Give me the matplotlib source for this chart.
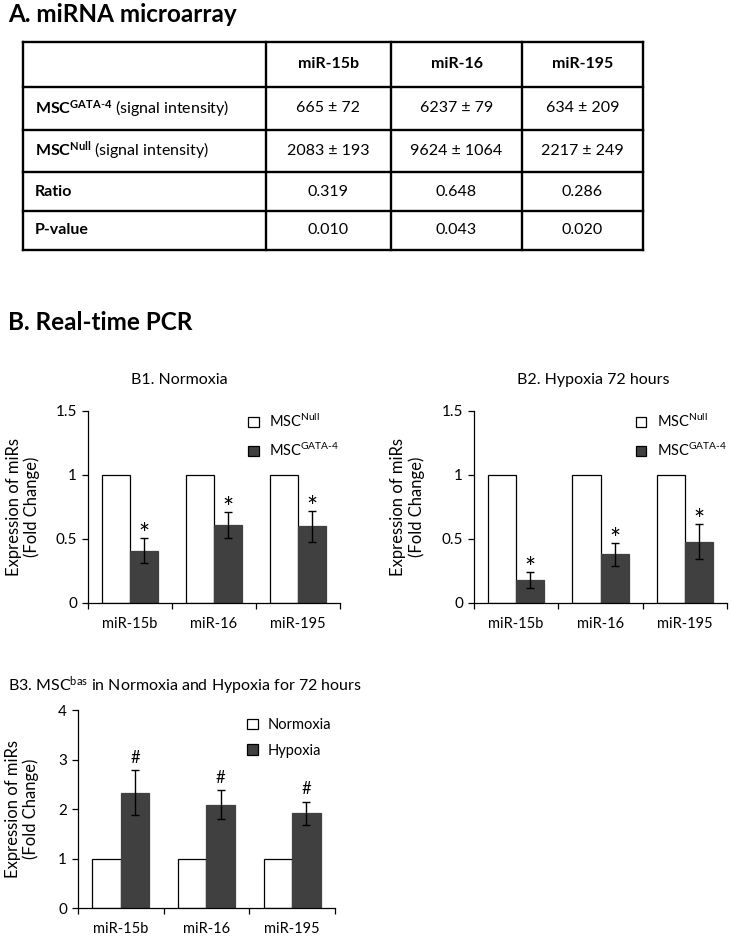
import matplotlib
matplotlib.use("Agg")
import matplotlib.pyplot as plt
from matplotlib.patches import Patch
import numpy as np

plt.rcParams['font.family'] = ['Lato', 'DejaVu Sans']
plt.rcParams['mathtext.fontset'] = 'custom'
plt.rcParams['mathtext.rm'] = 'Lato'
plt.rcParams['mathtext.bf'] = 'Lato:bold'
plt.rcParams['mathtext.it'] = 'Lato:italic'

# ---------------- data ----------------
mirs = ["miR-15b", "miR-16", "miR-195"]
table_rows = [r"$\mathbf{MSC^{GATA\text{-}4}}$ (signal intensity)",
              r"$\mathbf{MSC^{Null}}$ (signal intensity)",
              "Ratio", "P-value"]
row_bold = [False, False, True, True]
gata_signal = ["665 ± 72", "6237 ± 79", "634 ± 209"]
null_signal = ["2083 ± 193", "9624 ± 1064", "2217 ± 249"]
ratio = ["0.319", "0.648", "0.286"]
pvalue = ["0.010", "0.043", "0.020"]

b1_null = [1.0, 1.0, 1.0]
b1_gata = [0.41, 0.61, 0.60]
b1_gata_err = [0.095, 0.10, 0.12]

b2_null = [1.0, 1.0, 1.0]
b2_gata = [0.18, 0.38, 0.48]
b2_gata_err = [0.06, 0.09, 0.135]

b3_norm = [1.0, 1.0, 1.0]
b3_hyp = [2.33, 2.09, 1.91]
b3_hyp_err = [0.45, 0.29, 0.24]

DARK = "#404040"
W, H = 731, 938
fig = plt.figure(figsize=(W / 100, H / 100), dpi=100)

# ---------------- overlay axes for table & headings (pixel coords) -----
ax0 = fig.add_axes([0, 0, 1, 1])
ax0.set_xlim(0, W)
ax0.set_ylim(H, 0)
ax0.axis("off")

ax0.text(8, 15, "A. miRNA microarray", fontsize=17.5, fontweight="bold",
         ha="left", va="center")
ax0.text(8, 323, "B. Real-time PCR", fontsize=17.5, fontweight="bold",
         ha="left", va="center")

xs = [23, 266, 391, 522, 643]
ys = [42, 87, 130, 172, 211, 250]
for y in ys:
    ax0.plot([xs[0], xs[-1]], [y, y], color="black", lw=1.7,
             solid_capstyle="projecting")
for x in xs:
    ax0.plot([x, x], [ys[0], ys[-1]], color="black", lw=1.7,
             solid_capstyle="projecting")

col_c = [(xs[i] + xs[i + 1]) / 2 for i in range(1, 4)]
row_c = [(ys[i] + ys[i + 1]) / 2 for i in range(5)]
for j, m in enumerate(mirs):
    ax0.text(col_c[j], row_c[0], m, fontsize=11.5, fontweight="bold",
             ha="center", va="center")
cells = [gata_signal, null_signal, ratio, pvalue]
for i, lab in enumerate(table_rows):
    ax0.text(35, row_c[i + 1], lab, fontsize=11.5,
             fontweight="bold" if row_bold[i] else "normal",
             ha="left", va="center")
    for j in range(3):
        ax0.text(col_c[j], row_c[i + 1], cells[i][j], fontsize=11.5,
                 ha="center", va="center")


def px_axes(left, right, top, bottom):
    return fig.add_axes([left / W, (H - bottom) / H, (right - left) / W,
                         (bottom - top) / H])


def bar_panel(ax, a, b, b_err, ymax, yticks, ytlabels, labels, mark,
              title, title_x, title_y, leg_x, leg_y, ylab_x):
    x = np.arange(len(mirs))
    w = 1 / 3
    ax.bar(x - w / 2, a, w, color="white", edgecolor="black", lw=0.9,
           label=labels[0])
    ax.bar(x + w / 2, b, w, color=DARK, edgecolor=DARK, lw=0.9,
           label=labels[1])
    ax.errorbar(x + w / 2, b, yerr=b_err, fmt="none", ecolor="black",
                elinewidth=1, capsize=3, capthick=1)
    for xi, v, e in zip(x, b, b_err):
        if mark == "*":
            ax.annotate(mark, (xi + w / 2, v + e), xytext=(0, -3.5),
                        textcoords="offset points", ha="center",
                        va="baseline", fontsize=19)
        else:
            ax.annotate(mark, (xi + w / 2, v + e), xytext=(0, 5.5),
                        textcoords="offset points", ha="center",
                        va="baseline", fontsize=12)
    ax.set_xlim(-0.5, len(mirs) - 0.5)
    ax.set_ylim(0, ymax)
    ax.set_yticks(yticks)
    ax.set_yticklabels(ytlabels, fontsize=11)
    ax.set_xticks(np.arange(len(mirs) + 1) - 0.5)
    ax.set_xticklabels([])
    ax.set_xticks(x, minor=True)
    ax.set_xticklabels(mirs, minor=True, fontsize=10.5)
    ax.tick_params(axis="x", which="major", length=4, width=0.9,
                   direction="out")
    ax.tick_params(axis="x", which="minor", length=0, pad=10)
    ax.tick_params(axis="y", length=4, width=0.9, pad=4)
    for s in ("top", "right"):
        ax.spines[s].set_visible(False)
    for s in ("left", "bottom"):
        ax.spines[s].set_linewidth(0.9)
    ax.text(ylab_x, 0.5, "Expression of miRs\n(Fold Change)",
            transform=ax.transAxes, rotation=90, ha="center", va="center",
            fontsize=12, linespacing=1.15, multialignment="center")
    handles = [Patch(facecolor="white", edgecolor="black", lw=0.9),
               Patch(facecolor=DARK, edgecolor="black", lw=0.9)]
    ax.legend(handles, labels, loc="upper left",
              bbox_to_anchor=(leg_x, leg_y),
              frameon=False, fontsize=10.5, handlelength=0.72,
              handleheight=0.72, handletextpad=0.7, labelspacing=0.8,
              borderpad=0, borderaxespad=0)
    fig.text(title_x / W, 1 - title_y / H, title, fontsize=11.5,
             ha="left" if title.startswith("B3") else "center", va="center")


ax1 = px_axes(88, 340, 411, 603)
bar_panel(ax1, b1_null, b1_gata, b1_gata_err, 1.5, [0, 0.5, 1, 1.5],
          ["0", "0.5", "1", "1.5"],
          [r"MSC$^{\mathrm{Null}}$", r"MSC$^{\mathrm{GATA\text{-}4}}$"],
          "*", "B1. Normoxia", 179, 380, 0.635, 0.99, -0.258)

ax2 = px_axes(474, 727, 411, 603)
bar_panel(ax2, b2_null, b2_gata, b2_gata_err, 1.5, [0, 0.5, 1, 1.5],
          ["0", "0.5", "1", "1.5"],
          [r"MSC$^{\mathrm{Null}}$", r"MSC$^{\mathrm{GATA\text{-}4}}$"],
          "*", "B2. Hypoxia 72 hours", 593, 380, 0.64, 0.99, -0.263)

ax3 = px_axes(78, 335, 710, 908)
bar_panel(ax3, b3_norm, b3_hyp, b3_hyp_err, 4, [0, 1, 2, 3, 4],
          ["0", "1", "2", "3", "4"], ["Normoxia", "Hypoxia"],
          "#", r"B3. MSC$^{\mathrm{bas}}$ in Normoxia and Hypoxia for 72 hours",
          8, 686, 0.658, 0.96, -0.218)

fig.savefig("out.png", dpi=100)
